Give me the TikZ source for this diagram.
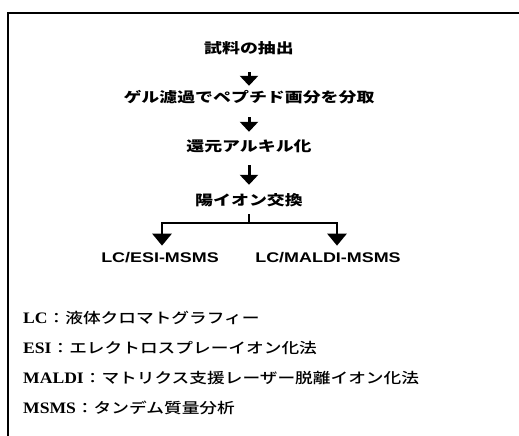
\documentclass[tikz,border=0pt]{standalone}
\usepackage{fontspec}
\setmainfont{Liberation Sans}
\newfontfamily\jpflow{Noto Sans CJK JP Black}[FakeStretch=1.28]
\newfontfamily\latflow{Liberation Sans}[FakeStretch=1.28]
\newfontfamily\jpleg{Noto Sans CJK JP Medium}[FakeStretch=1.22]
\newfontfamily\latleg{Liberation Serif}[FakeStretch=1.1]
\usetikzlibrary{arrows.meta}
\begin{document}
\begin{tikzpicture}[x=1pt,y=-1pt,
  flowtext/.style={font=\fontsize{14}{16}\selectfont\jpflow, inner sep=0pt, text height=11pt, text depth=3pt},
  labtext/.style={font=\fontsize{14}{16}\selectfont\latflow\bfseries, inner sep=0pt, anchor=base},
  legtext/.style={font=\fontsize{14.5}{17}\selectfont, inner sep=0pt, anchor=base west},
  flowarrow/.style={line width=3pt, -{Triangle[width=18pt,length=10pt]}},
  brancharrow/.style={line width=2.8pt, -{Triangle[width=19pt,length=12pt]}},
  frameline/.style={line width=1.6pt}]
\useasboundingbox (0,0) rectangle (519,436);
\fill[white] (0,0) rectangle (519,436);
\draw[frameline] (8,436) -- (8,13) -- (519,13);

\node[flowtext] (n1) at (249,50) {試料の抽出};
\node[flowtext] (n2) at (249,98) {ゲル濾過でペプチド画分を分取};
\node[flowtext] (n3) at (249,147) {還元アルキル化};
\node[flowtext] (n4) at (249,201) {陽イオン交換};

\draw[flowarrow, shorten <=15pt, shorten >=5pt] (n1) -- (n2);
\draw[flowarrow, shorten <=12pt, shorten >=8pt] (n2) -- (n3);
\draw[flowarrow, shorten <=11pt, shorten >=9pt] (n3) -- (n4);

\node[labtext] (l) at (160,262) {LC/ESI-MSMS};
\node[labtext] (r) at (328,262) {LC/MALDI-MSMS};

\coordinate (bc) at (249,223);
\coordinate (bl) at (162,223);
\coordinate (br) at (337,223);
\draw[line width=1.4pt, shorten <=6pt] (n4.south) -- (bc);
\draw[line width=2.8pt, line cap=rect] (bl) -- (br);
\draw[brancharrow, shorten >=6pt] (bl) -- (bl |- l.north);
\draw[brancharrow, shorten >=6pt] (br) -- (br |- r.north);

\node[legtext] (g1) at (23,323) {{\fontsize{16}{17}\selectfont\latleg\bfseries LC}{\jpleg ：液体クロマトグラフィー}};
\node[legtext] (g2) at (23,353) {{\fontsize{16}{17}\selectfont\latleg\bfseries ESI}{\jpleg ：エレクトロスプレーイオン化法}};
\node[legtext] (g3) at (23,383) {{\fontsize{16}{17}\selectfont\latleg\bfseries MALDI}{\jpleg ：マトリクス支援レーザー脱離イオン化法}};
\node[legtext] (g4) at (23,413) {{\fontsize{16}{17}\selectfont\latleg\bfseries MSMS}{\jpleg ：タンデム質量分析}};
\end{tikzpicture}
\end{document}
